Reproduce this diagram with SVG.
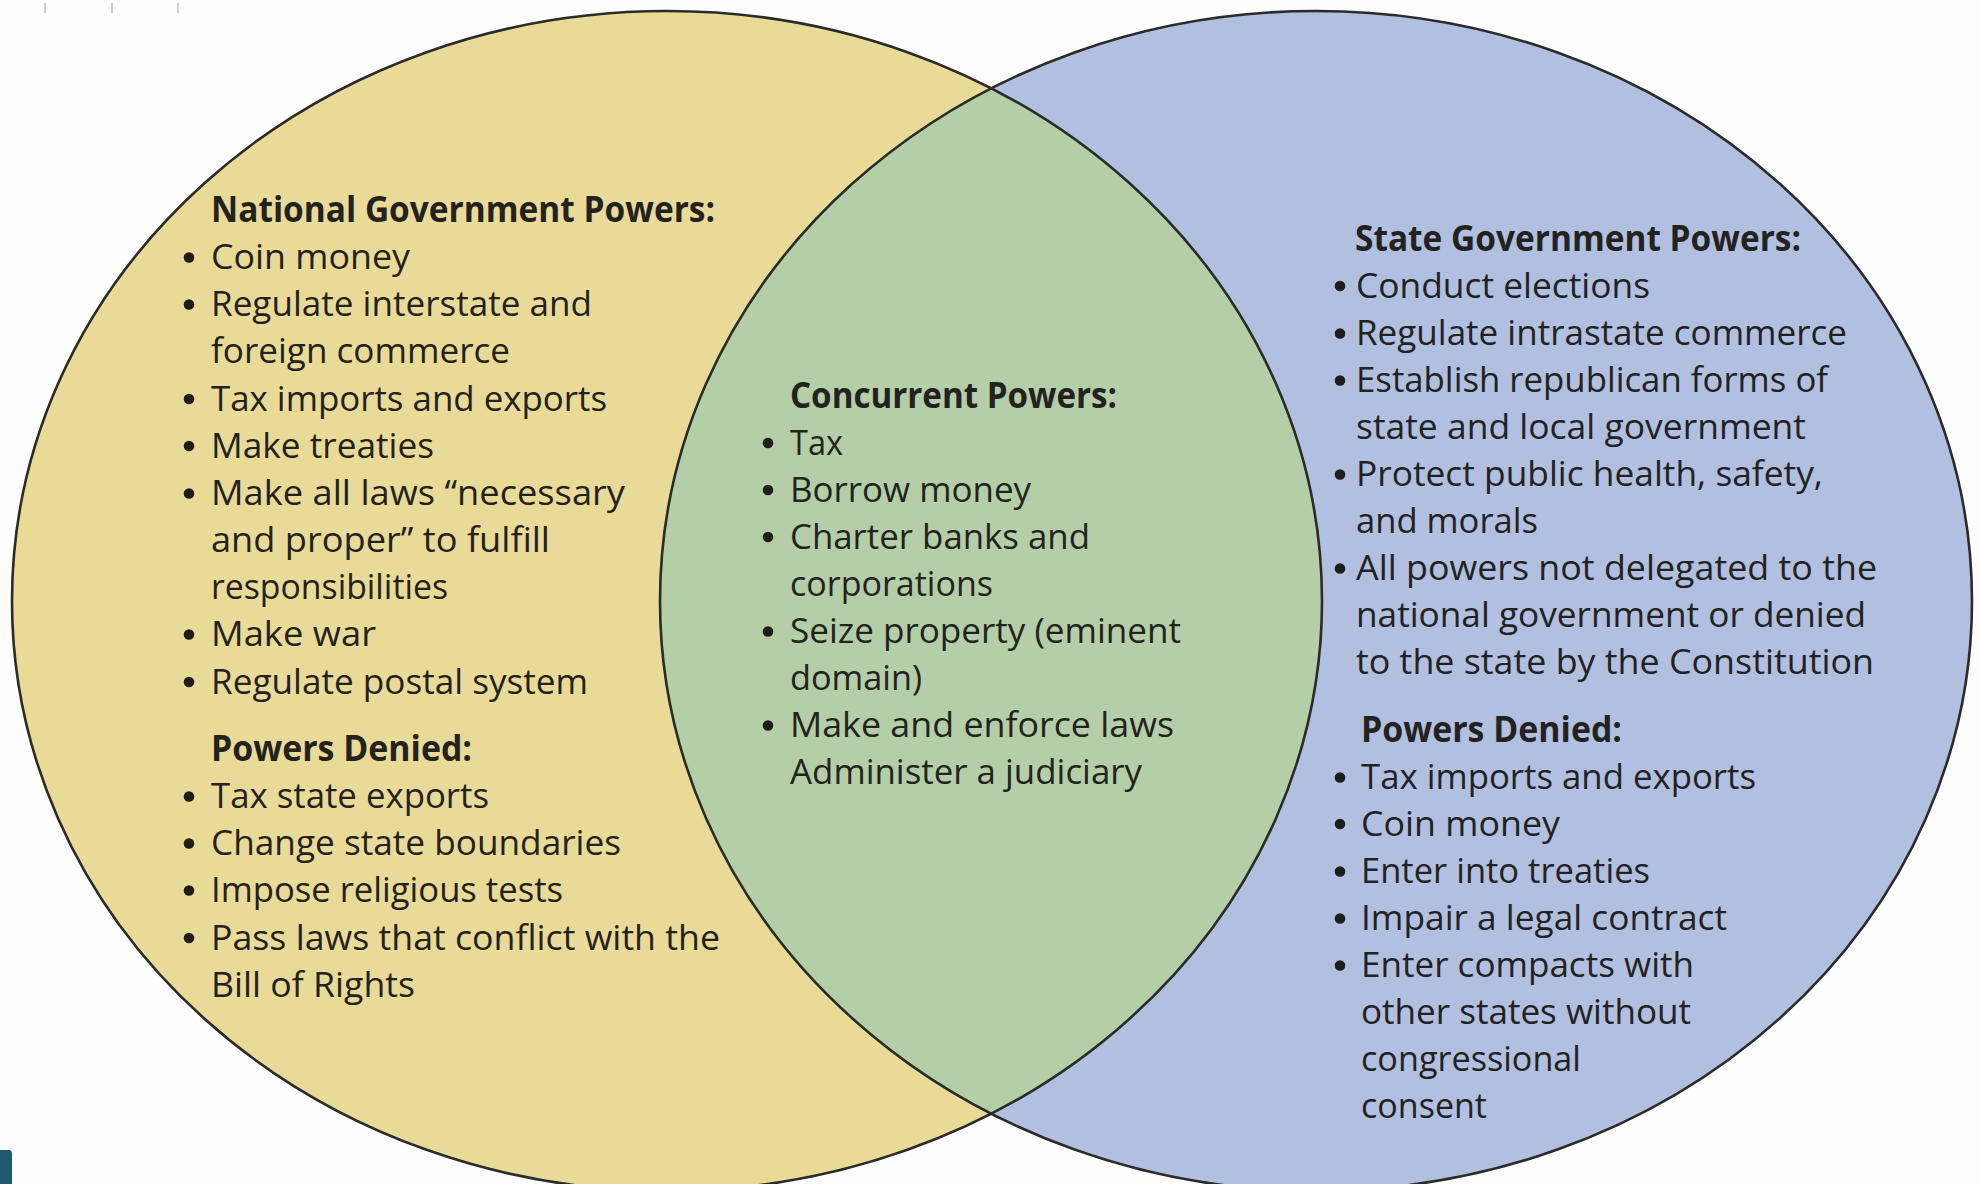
<svg xmlns="http://www.w3.org/2000/svg" width="1980" height="1184" viewBox="0 0 1980 1184">
  <defs>
    <style>
      .t { font-family: "Open Sans", "Noto Sans", "DejaVu Sans", sans-serif; font-size: 35px; fill: #23221e; }
      .h { font-weight: 700; }
      .b { fill: #1e1d1a; }
      .edge { fill: none; stroke: #2b2b28; stroke-width: 2.6; }
      .tick { stroke: #b8bcc4; stroke-width: 1.5; }
    </style>
    <clipPath id="clipLeft">
      <ellipse cx="667" cy="601" rx="655" ry="590"/>
    </clipPath>
  </defs>

  <rect x="0" y="0" width="1980" height="1184" fill="#fdfdfd"/>

  <!-- small marks along the top edge -->
  <line class="tick" x1="45" y1="3" x2="45" y2="13"/>
  <line class="tick" x1="112" y1="3" x2="112" y2="13"/>
  <line class="tick" x1="178" y1="3" x2="178" y2="13"/>

  <!-- Venn circles -->
  <g id="circles">
    <ellipse id="national-fill" cx="667" cy="601" rx="655" ry="590" fill="#e9db97"/>
    <ellipse id="state-fill" cx="1316" cy="601" rx="656" ry="590" fill="#b1bfe0"/>
    <ellipse id="overlap-fill" cx="1316" cy="601" rx="656" ry="590" fill="#b4cea7" clip-path="url(#clipLeft)"/>
  </g>

  <!-- circle outlines -->
  <g id="connectors">
    <ellipse class="edge" cx="667" cy="601" rx="655" ry="590"/>
    <ellipse class="edge" cx="1316" cy="601" rx="656" ry="590"/>
  </g>

  <!-- National government column -->
  <g id="node-national">
    <text class="t h" x="211" y="222" textLength="504" lengthAdjust="spacingAndGlyphs">National Government Powers:</text>
    <circle class="b" cx="189" cy="257.5" r="5.3"/>
    <text class="t" x="211" y="269" textLength="199" lengthAdjust="spacingAndGlyphs">Coin money</text>
    <circle class="b" cx="189" cy="304.5" r="5.3"/>
    <text class="t" x="211" y="316" textLength="381" lengthAdjust="spacingAndGlyphs">Regulate interstate and</text>
    <text class="t" x="211" y="363" textLength="299" lengthAdjust="spacingAndGlyphs">foreign commerce</text>
    <circle class="b" cx="189" cy="399" r="5.3"/>
    <text class="t" x="211" y="410.5" textLength="396" lengthAdjust="spacingAndGlyphs">Tax imports and exports</text>
    <circle class="b" cx="189" cy="446" r="5.3"/>
    <text class="t" x="211" y="457.5" textLength="223" lengthAdjust="spacingAndGlyphs">Make treaties</text>
    <circle class="b" cx="189" cy="493.5" r="5.3"/>
    <text class="t" x="211" y="505" textLength="414" lengthAdjust="spacingAndGlyphs">Make all laws “necessary</text>
    <text class="t" x="211" y="552" textLength="339" lengthAdjust="spacingAndGlyphs">and proper” to fulfill</text>
    <text class="t" x="211" y="599" textLength="237" lengthAdjust="spacingAndGlyphs">responsibilities</text>
    <circle class="b" cx="189" cy="634.5" r="5.3"/>
    <text class="t" x="211" y="646" textLength="165" lengthAdjust="spacingAndGlyphs">Make war</text>
    <circle class="b" cx="189" cy="682" r="5.3"/>
    <text class="t" x="211" y="693.5" textLength="377" lengthAdjust="spacingAndGlyphs">Regulate postal system</text>

    <text class="t h" x="211" y="761" textLength="261" lengthAdjust="spacingAndGlyphs">Powers Denied:</text>
    <circle class="b" cx="189" cy="796.5" r="5.3"/>
    <text class="t" x="211" y="808" textLength="278" lengthAdjust="spacingAndGlyphs">Tax state exports</text>
    <circle class="b" cx="189" cy="843.5" r="5.3"/>
    <text class="t" x="211" y="855" textLength="410" lengthAdjust="spacingAndGlyphs">Change state boundaries</text>
    <circle class="b" cx="189" cy="890.5" r="5.3"/>
    <text class="t" x="211" y="902" textLength="352" lengthAdjust="spacingAndGlyphs">Impose religious tests</text>
    <circle class="b" cx="189" cy="938" r="5.3"/>
    <text class="t" x="211" y="949.5" textLength="509" lengthAdjust="spacingAndGlyphs">Pass laws that conflict with the</text>
    <text class="t" x="211" y="996.5" textLength="204" lengthAdjust="spacingAndGlyphs">Bill of Rights</text>
  </g>

  <!-- Shared (concurrent) column -->
  <g id="node-concurrent">
    <text class="t h" x="790" y="407.5" textLength="327" lengthAdjust="spacingAndGlyphs">Concurrent Powers:</text>
    <circle class="b" cx="768" cy="443" r="5.3"/>
    <text class="t" x="790" y="454.5" textLength="53" lengthAdjust="spacingAndGlyphs">Tax</text>
    <circle class="b" cx="768" cy="490" r="5.3"/>
    <text class="t" x="790" y="501.5" textLength="241" lengthAdjust="spacingAndGlyphs">Borrow money</text>
    <circle class="b" cx="768" cy="537" r="5.3"/>
    <text class="t" x="790" y="548.5" textLength="300" lengthAdjust="spacingAndGlyphs">Charter banks and</text>
    <text class="t" x="790" y="595.5" textLength="203" lengthAdjust="spacingAndGlyphs">corporations</text>
    <circle class="b" cx="768" cy="631.5" r="5.3"/>
    <text class="t" x="790" y="643" textLength="391" lengthAdjust="spacingAndGlyphs">Seize property (eminent</text>
    <text class="t" x="790" y="690" textLength="132" lengthAdjust="spacingAndGlyphs">domain)</text>
    <circle class="b" cx="768" cy="725.5" r="5.3"/>
    <text class="t" x="790" y="737" textLength="384" lengthAdjust="spacingAndGlyphs">Make and enforce laws</text>
    <text class="t" x="790" y="784" textLength="352" lengthAdjust="spacingAndGlyphs">Administer a judiciary</text>
  </g>

  <!-- State government column -->
  <g id="node-state">
    <text class="t h" x="1355" y="250.5" textLength="446" lengthAdjust="spacingAndGlyphs">State Government Powers:</text>
    <circle class="b" cx="1340" cy="286" r="5.3"/>
    <text class="t" x="1356" y="297.5" textLength="294" lengthAdjust="spacingAndGlyphs">Conduct elections</text>
    <circle class="b" cx="1340" cy="333.5" r="5.3"/>
    <text class="t" x="1356" y="345" textLength="491" lengthAdjust="spacingAndGlyphs">Regulate intrastate commerce</text>
    <circle class="b" cx="1340" cy="380.5" r="5.3"/>
    <text class="t" x="1356" y="392" textLength="472" lengthAdjust="spacingAndGlyphs">Establish republican forms of</text>
    <text class="t" x="1356" y="439" textLength="450" lengthAdjust="spacingAndGlyphs">state and local government</text>
    <circle class="b" cx="1340" cy="474.5" r="5.3"/>
    <text class="t" x="1356" y="486" textLength="467" lengthAdjust="spacingAndGlyphs">Protect public health, safety,</text>
    <text class="t" x="1356" y="533" textLength="182" lengthAdjust="spacingAndGlyphs">and morals</text>
    <circle class="b" cx="1340" cy="568.5" r="5.3"/>
    <text class="t" x="1356" y="580" textLength="521" lengthAdjust="spacingAndGlyphs">All powers not delegated to the</text>
    <text class="t" x="1356" y="627" textLength="510" lengthAdjust="spacingAndGlyphs">national government or denied</text>
    <text class="t" x="1356" y="674" textLength="518" lengthAdjust="spacingAndGlyphs">to the state by the Constitution</text>

    <text class="t h" x="1361" y="742" textLength="261" lengthAdjust="spacingAndGlyphs">Powers Denied:</text>
    <circle class="b" cx="1340" cy="777.5" r="5.3"/>
    <text class="t" x="1361" y="789" textLength="395" lengthAdjust="spacingAndGlyphs">Tax imports and exports</text>
    <circle class="b" cx="1340" cy="824" r="5.3"/>
    <text class="t" x="1361" y="835.5" textLength="199" lengthAdjust="spacingAndGlyphs">Coin money</text>
    <circle class="b" cx="1340" cy="871.5" r="5.3"/>
    <text class="t" x="1361" y="883" textLength="289" lengthAdjust="spacingAndGlyphs">Enter into treaties</text>
    <circle class="b" cx="1340" cy="918.5" r="5.3"/>
    <text class="t" x="1361" y="930" textLength="366" lengthAdjust="spacingAndGlyphs">Impair a legal contract</text>
    <circle class="b" cx="1340" cy="965.5" r="5.3"/>
    <text class="t" x="1361" y="977" textLength="333" lengthAdjust="spacingAndGlyphs">Enter compacts with</text>
    <text class="t" x="1361" y="1023.5" textLength="330" lengthAdjust="spacingAndGlyphs">other states without</text>
    <text class="t" x="1361" y="1071" textLength="220" lengthAdjust="spacingAndGlyphs">congressional</text>
    <text class="t" x="1361" y="1118" textLength="126" lengthAdjust="spacingAndGlyphs">consent</text>
  </g>

  <!-- corner tab, bottom left -->
  <path d="M0 1150 L9 1150 Q12 1150 12 1154 L12 1184 L0 1184 Z" fill="#1f5a6b"/>
</svg>
